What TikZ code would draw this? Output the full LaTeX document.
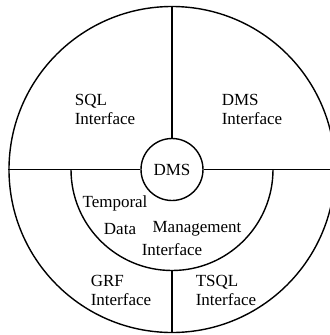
\documentclass[tikz,border=0pt]{standalone}
\usepackage{fontspec}
\setmainfont{Liberation Serif}
\begin{document}
\begin{tikzpicture}[x=1bp,y=-1bp,
  lbl/.style={inner sep=0pt, align=left, font=\fontsize{17bp}{19bp}\selectfont},
  ring/.style={draw, circle, line width=1.4bp, inner sep=0pt}]
\useasboundingbox (0,0) rectangle (330,335);
\clip (0,0) rectangle (330,335);
\fill[white] (0,0) rectangle (330,335);
\node[ring, minimum size=326bp] (outer) at (172,169.5) {};
\node[ring, minimum size=62bp, font=\fontsize{17bp}{19bp}\selectfont] (dms) at (172,169.5) {DMS};
\coordinate (mleft) at (71,169.5);
\coordinate (mbot) at (172,270.5);
\draw[line width=1.4bp] (mleft) arc[start angle=180, end angle=360, radius=101bp];
\draw[line width=1.4bp] (outer.west) -- (dms.west);
\draw[line width=1.4bp] (dms.east) -- (outer.east);
\draw[line width=1.4bp] (outer.north) -- (dms.north);
\draw[line width=1.4bp] (mbot) -- (outer.south);
\node[lbl] (sql) at (105,109) {SQL\\Interface};
\node[lbl] (dmsi) at (252,109) {DMS\\Interface};
\node[lbl] (grf) at (121,290) {GRF\\Interface};
\node[lbl] (tsql) at (226,290) {TSQL\\Interface};
\node[lbl] (temporal) at (115,203) {Temporal};
\node[lbl] (data) at (120,229) {Data};
\node[lbl] (mgmt) at (197,229) {Management};
\node[lbl] (tinterf) at (172,250) {Interface};
\end{tikzpicture}
\end{document}
